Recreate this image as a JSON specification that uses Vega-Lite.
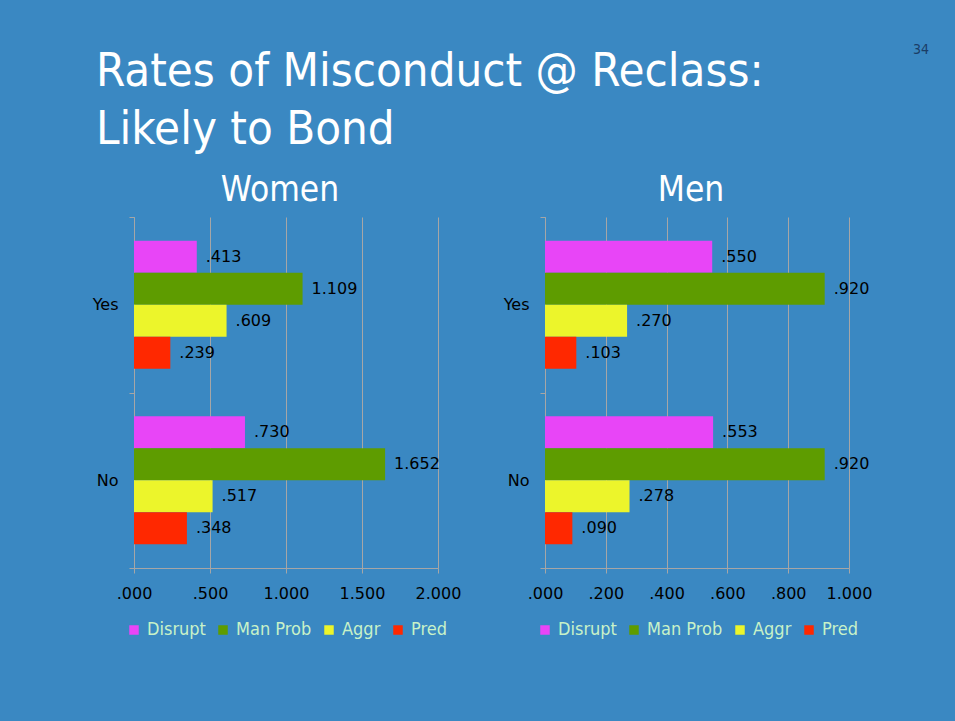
{
  "$schema": "https://vega.github.io/schema/vega-lite/v6.json",
  "background": "#3a88c2",
  "padding": {"left": 92, "top": 18, "right": 26, "bottom": 82},
  "config": {
    "view": {"stroke": null},
    "font": "DejaVu Sans",
    "axis": {"domainColor": "#a6a6a6", "tickColor": "#a6a6a6", "gridColor": "#a6a6a6", "labelColor": "#000000", "labelFont": "DejaVu Sans", "labelFontSize": 16, "title": null, "tickSize": 5},
    "legend": {"layout": {"bottom": {"anchor": "middle"}}},
    "title": {"color": "#ffffff", "font": "DejaVu Sans Condensed", "fontWeight": "normal"}
  },
  "spacing": 20,
  "vconcat": [
    {
      "width": 795,
      "height": 20,
      "data": {"values": [{"page": "34"}]},
      "mark": {"type": "text", "align": "right", "baseline": "middle", "fontSize": 14, "color": "#1b3d66", "font": "DejaVu Sans Condensed"},
      "encoding": {"text": {"field": "page"}, "x": {"value": "width"}, "y": {"value": 32}},
      "title": {"text": ["Rates of Misconduct @ Reclass:", "Likely to Bond"], "orient": "bottom", "anchor": "start", "fontSize": 47, "lineHeight": 58, "baseline": "top", "offset": -8, "dx": -38}
    },
    {
      "spacing": 42,
      "resolve": {"scale": {"x": "independent", "color": "independent"}, "legend": {"color": "independent"}},
      "hconcat": [
        {
          "title": {"text": "Women", "fontSize": 35, "offset": 1, "dx": -6},
          "width": 304,
          "height": 351,
          "data": {"values": [
            {"bond": "Yes", "measure": "Disrupt", "rate": 0.413},
            {"bond": "Yes", "measure": "Man Prob", "rate": 1.109},
            {"bond": "Yes", "measure": "Aggr", "rate": 0.609},
            {"bond": "Yes", "measure": "Pred", "rate": 0.239},
            {"bond": "No", "measure": "Disrupt", "rate": 0.730},
            {"bond": "No", "measure": "Man Prob", "rate": 1.652},
            {"bond": "No", "measure": "Aggr", "rate": 0.517},
            {"bond": "No", "measure": "Pred", "rate": 0.348}
          ]},
          "transform": [{"calculate": "datum.rate < 1 ? substring(format(datum.rate, '.3f'), 1) : format(datum.rate, '.3f')", "as": "label"}],
          "encoding": {
            "y": {"field": "bond", "type": "nominal", "sort": ["Yes", "No"], "scale": {"paddingInner": 0, "paddingOuter": 0}, "axis": {"tickBand": "extent", "labelFontSize": 16, "labelPadding": 11, "grid": false}},
            "yOffset": {"field": "measure", "type": "nominal", "sort": ["Disrupt", "Man Prob", "Aggr", "Pred"], "scale": {"paddingInner": 0, "paddingOuter": 0.742}},
            "x": {"field": "rate", "type": "quantitative", "scale": {"domain": [0, 2]}, "axis": {"values": [0, 0.5, 1, 1.5, 2], "labelExpr": "datum.value < 1 ? substring(format(datum.value, '.3f'), 1) : format(datum.value, '.3f')", "grid": true, "labelPadding": 12, "labelFlush": false}}
          },
          "layer": [
            {"mark": {"type": "bar"}, "encoding": {"color": {"field": "measure", "type": "nominal", "scale": {"domain": ["Disrupt", "Man Prob", "Aggr", "Pred"], "range": ["#e845f7", "#5e9c00", "#ecf52b", "#ff2800"]}, "legend": {"orient": "bottom", "direction": "horizontal", "title": null, "symbolType": "square", "symbolSize": 90, "symbolStrokeWidth": 0, "symbolOpacity": 1, "labelFontSize": 18, "labelColor": "#c8f2c8", "labelFont": "DejaVu Sans Condensed", "columnPadding": 8, "labelOffset": 4, "offset": 20}}}},
            {"mark": {"type": "text", "align": "left", "baseline": "middle", "dx": 9, "fontSize": 16, "color": "#000000"}, "encoding": {"text": {"field": "label"}}}
          ]
        },
        {
          "title": {"text": "Men", "fontSize": 35, "offset": 1, "dx": -6},
          "width": 304,
          "height": 351,
          "data": {"values": [
            {"bond": "Yes", "measure": "Disrupt", "rate": 0.550},
            {"bond": "Yes", "measure": "Man Prob", "rate": 0.920},
            {"bond": "Yes", "measure": "Aggr", "rate": 0.270},
            {"bond": "Yes", "measure": "Pred", "rate": 0.103},
            {"bond": "No", "measure": "Disrupt", "rate": 0.553},
            {"bond": "No", "measure": "Man Prob", "rate": 0.920},
            {"bond": "No", "measure": "Aggr", "rate": 0.278},
            {"bond": "No", "measure": "Pred", "rate": 0.090}
          ]},
          "transform": [{"calculate": "datum.rate < 1 ? substring(format(datum.rate, '.3f'), 1) : format(datum.rate, '.3f')", "as": "label"}],
          "encoding": {
            "y": {"field": "bond", "type": "nominal", "sort": ["Yes", "No"], "scale": {"paddingInner": 0, "paddingOuter": 0}, "axis": {"tickBand": "extent", "labelFontSize": 16, "labelPadding": 11, "grid": false}},
            "yOffset": {"field": "measure", "type": "nominal", "sort": ["Disrupt", "Man Prob", "Aggr", "Pred"], "scale": {"paddingInner": 0, "paddingOuter": 0.742}},
            "x": {"field": "rate", "type": "quantitative", "scale": {"domain": [0, 1]}, "axis": {"values": [0, 0.2, 0.4, 0.6, 0.8, 1], "labelExpr": "datum.value < 1 ? substring(format(datum.value, '.3f'), 1) : format(datum.value, '.3f')", "grid": true, "labelPadding": 12, "labelFlush": false}}
          },
          "layer": [
            {"mark": {"type": "bar"}, "encoding": {"color": {"field": "measure", "type": "nominal", "scale": {"domain": ["Disrupt", "Man Prob", "Aggr", "Pred"], "range": ["#e845f7", "#5e9c00", "#ecf52b", "#ff2800"]}, "legend": {"orient": "bottom", "direction": "horizontal", "title": null, "symbolType": "square", "symbolSize": 90, "symbolStrokeWidth": 0, "symbolOpacity": 1, "labelFontSize": 18, "labelColor": "#c8f2c8", "labelFont": "DejaVu Sans Condensed", "columnPadding": 8, "labelOffset": 4, "offset": 20}}}},
            {"mark": {"type": "text", "align": "left", "baseline": "middle", "dx": 9, "fontSize": 16, "color": "#000000"}, "encoding": {"text": {"field": "label"}}}
          ]
        }
      ]
    }
  ]
}
